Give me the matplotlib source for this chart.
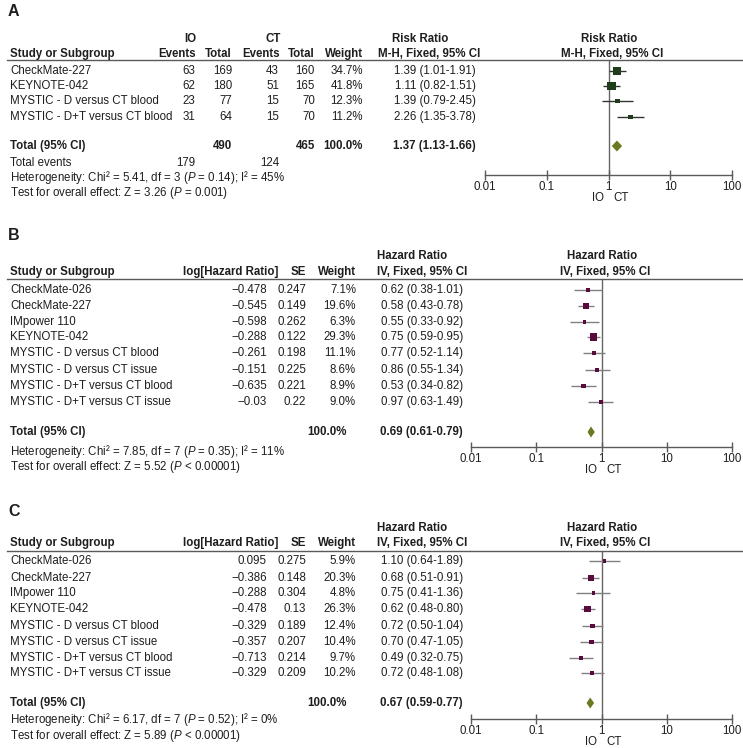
"""
Forest plots: IO versus CT (three panels)
"""

import matplotlib
matplotlib.use('Agg')
import matplotlib.pyplot as plt
import numpy as np

plt.rcParams['font.family'] = ['Liberation Sans', 'DejaVu Sans']
plt.rcParams['mathtext.fontset'] = 'custom'
plt.rcParams['mathtext.rm'] = 'Liberation Sans'
plt.rcParams['mathtext.it'] = 'Liberation Sans:italic'
plt.rcParams['mathtext.bf'] = 'Liberation Sans:bold'

# ---- panel A : risk ratio ----
a_studies = ['CheckMate-227', 'KEYNOTE-042', 'MYSTIC - D versus CT blood', 'MYSTIC - D+T versus CT blood']
a_io_events = [63, 62, 23, 31]
a_io_total = [169, 180, 77, 64]
a_ct_events = [43, 51, 15, 15]
a_ct_total = [160, 165, 70, 70]
a_weight = [34.7, 41.8, 12.3, 11.2]
a_est = [1.39, 1.11, 1.39, 2.26]
a_lo = [1.01, 0.82, 0.79, 1.35]
a_hi = [1.91, 1.51, 2.45, 3.78]
a_pooled = [1.37, 1.13, 1.66]
a_sum_total = [490, 465]
a_sum_events = [179, 124]
a_het = 'Heterogeneity: Chi² = 5.41, df = 3 ($P$ = 0.14); I² = 45%'
a_test = 'Test for overall effect: Z = 3.26 ($P$ = 0.001)'

# ---- panels B and C : hazard ratio ----
hr_studies = ['CheckMate-026', 'CheckMate-227', 'IMpower 110', 'KEYNOTE-042',
              'MYSTIC - D versus CT blood', 'MYSTIC - D versus CT issue',
              'MYSTIC - D+T versus CT blood', 'MYSTIC - D+T versus CT issue']

b_loghr = [-0.478, -0.545, -0.598, -0.288, -0.261, -0.151, -0.635, -0.03]
b_se = [0.247, 0.149, 0.262, 0.122, 0.198, 0.225, 0.221, 0.22]
b_weight = [7.1, 19.6, 6.3, 29.3, 11.1, 8.6, 8.9, 9.0]
b_est = [0.62, 0.58, 0.55, 0.75, 0.77, 0.86, 0.53, 0.97]
b_lo = [0.38, 0.43, 0.33, 0.59, 0.52, 0.55, 0.34, 0.63]
b_hi = [1.01, 0.78, 0.92, 0.95, 1.14, 1.34, 0.82, 1.49]
b_pooled = [0.69, 0.61, 0.79]
b_het = 'Heterogeneity: Chi² = 7.85, df = 7 ($P$ = 0.35); I² = 11%'
b_test = 'Test for overall effect: Z = 5.52 ($P$ < 0.00001)'

c_loghr = [0.095, -0.386, -0.288, -0.478, -0.329, -0.357, -0.713, -0.329]
c_se = [0.275, 0.148, 0.304, 0.13, 0.189, 0.207, 0.214, 0.209]
c_weight = [5.9, 20.3, 4.8, 26.3, 12.4, 10.4, 9.7, 10.2]
c_est = [1.10, 0.68, 0.75, 0.62, 0.72, 0.70, 0.49, 0.72]
c_lo = [0.64, 0.51, 0.41, 0.48, 0.50, 0.47, 0.32, 0.48]
c_hi = [1.89, 0.91, 1.36, 0.80, 1.04, 1.05, 0.75, 1.08]
c_pooled = [0.67, 0.59, 0.77]
c_het = 'Heterogeneity: Chi² = 6.17, df = 7 ($P$ = 0.52); I² = 0%'
c_test = 'Test for overall effect: Z = 5.89 ($P$ < 0.00001)'

ticks = [0.01, 0.1, 1, 10, 100]

W, H = 743, 748
FS = 8.3
TXT = '#1e1e1e'
GRID = '#5a5a5a'

fig = plt.figure(figsize=(W / 100, H / 100), dpi=100)


def t(x, y, s, ha='left', bold=False, size=FS):
    fig.text(x / W, 1 - y / H, s, ha=ha, va='center', fontsize=size, color=TXT,
             fontweight='bold' if bold else 'normal')


def hline(y, x0=7, x1=743):
    fig.add_artist(plt.Line2D([x0 / W, x1 / W], [1 - y / H, 1 - y / H], color=GRID, lw=1.0))


def num(v):
    return f'{v:g}'.replace('-', '\u2212')


def ci_txt(e, lo, hi):
    return f'{e:.2f} ({lo:.2f}-{hi:.2f})'


def forest(x0, x1, ytop, ybot, rows, est, lo, hi, weight, pooled, ytot, sq_col, ci_col, k):
    ax = fig.add_axes([x0 / W, 1 - ybot / H, (x1 - x0) / W, (ybot - ytop) / H])
    ax.set_xscale('log')
    ax.set_xlim(0.01, 100)
    ax.set_ylim(ybot, ytop)
    ax.patch.set_alpha(0)
    for s in ['top', 'right', 'left']:
        ax.spines[s].set_visible(False)
    ax.spines['bottom'].set_color(GRID)
    ax.spines['bottom'].set_linewidth(1.0)
    ax.set_yticks([])
    ax.set_xticks(ticks)
    ax.set_xticklabels(['0.01', '0.1', '1', '10', '100'])
    ax.xaxis.set_minor_locator(matplotlib.ticker.NullLocator())
    ax.tick_params(axis='x', direction='inout', length=7, width=1.0, color=GRID,
                   labelsize=FS, labelcolor=TXT, pad=1)
    ax.axvline(1, color='#666666', lw=1.0, zorder=1)
    ax.hlines(rows, lo, hi, color=ci_col, lw=1.0, zorder=2)
    side_px = np.maximum(3.2, k * np.sqrt(weight))
    ax.scatter(est, rows, marker='s', s=(side_px * 0.72) ** 2, color=sq_col, zorder=3, linewidths=0)
    e, l, h = pooled
    ax.fill([l, e, h, e], [ytot, ytot - 5.5, ytot, ytot + 5.5], color='#6b7a22', zorder=3, lw=0)
    ax.annotate('IO', xy=(1, 0), xycoords=('data', 'axes fraction'), xytext=(-3.5, -16.5),
                textcoords='offset points', ha='right', va='center', fontsize=FS, color=TXT)
    ax.annotate('CT', xy=(1, 0), xycoords=('data', 'axes fraction'), xytext=(3.5, -16.5),
                textcoords='offset points', ha='left', va='center', fontsize=FS, color=TXT)
    return ax


# ================= Panel A =================
t(8, 12, 'A', bold=True, size=11.5)
t(190, 39, 'IO', ha='center', bold=True)
t(273, 39, 'CT', ha='center', bold=True)
t(420, 39, 'Risk Ratio', ha='center', bold=True)
t(609, 39, 'Risk Ratio', ha='center', bold=True)
t(10, 54, 'Study or Subgroup', bold=True)
t(196, 54, 'Events', ha='right', bold=True)
t(232, 54, 'Total', ha='right', bold=True)
t(280, 54, 'Events', ha='right', bold=True)
t(315, 54, 'Total', ha='right', bold=True)
t(363, 54, 'Weight', ha='right', bold=True)
t(429, 54, 'M-H, Fixed, 95% CI', ha='center', bold=True)
t(612, 54, 'M-H, Fixed, 95% CI', ha='center', bold=True)
hline(60)

a_rows = [71, 86, 101, 117]
for i, y in enumerate(a_rows):
    t(10, y, a_studies[i])
    t(195, y, str(a_io_events[i]), ha='right')
    t(232, y, str(a_io_total[i]), ha='right')
    t(279, y, str(a_ct_events[i]), ha='right')
    t(315, y, str(a_ct_total[i]), ha='right')
    t(363, y, f'{a_weight[i]:.1f}%', ha='right')
    t(476, y, ci_txt(a_est[i], a_lo[i], a_hi[i]), ha='right')
t(10, 146, 'Total (95% CI)', bold=True)
t(232, 146, str(a_sum_total[0]), ha='right', bold=True)
t(315, 146, str(a_sum_total[1]), ha='right', bold=True)
t(363, 146, '100.0%', ha='right', bold=True)
t(476, 146, ci_txt(*a_pooled), ha='right', bold=True)
t(10, 163, 'Total events')
t(195, 163, str(a_sum_events[0]), ha='right')
t(279, 163, str(a_sum_events[1]), ha='right')
t(10, 178, a_het)
t(10, 193, a_test)
forest(485, 732, 60, 175, a_rows, a_est, a_lo, a_hi, a_weight, a_pooled, 146,
       '#1f3d1b', '#333333', 1.35)


# ================= Panels B and C =================
def hr_panel(label, ylab, yh1, yh2, yline, rows, ytot, yhet, yaxis, loghr, se, weight,
             est, lo, hi, pooled, het, test):
    t(8, ylab, label, bold=True, size=11.5)
    t(412, yh1, 'Hazard Ratio', ha='center', bold=True)
    t(602, yh1, 'Hazard Ratio', ha='center', bold=True)
    t(10, yh2, 'Study or Subgroup', bold=True)
    t(278, yh2, 'log[Hazard Ratio]', ha='right', bold=True)
    t(306, yh2, 'SE', ha='right', bold=True)
    t(356, yh2, 'Weight', ha='right', bold=True)
    t(422, yh2, 'IV, Fixed, 95% CI', ha='center', bold=True)
    t(605, yh2, 'IV, Fixed, 95% CI', ha='center', bold=True)
    hline(yline)
    for i, y in enumerate(rows):
        t(10, y, hr_studies[i])
        t(267, y, num(loghr[i]), ha='right')
        t(306, y, num(se[i]), ha='right')
        t(356, y, f'{weight[i]:.1f}%', ha='right')
        t(463, y, ci_txt(est[i], lo[i], hi[i]), ha='right')
    t(10, ytot, 'Total (95% CI)', bold=True)
    t(347, ytot, '100.0%', ha='right', bold=True)
    t(463, ytot, ci_txt(*pooled), ha='right', bold=True)
    t(10, yhet, het)
    t(10, yhet + 16, test)
    forest(471, 732, yline, yaxis, rows, est, lo, hi, weight, pooled, ytot,
           '#5a0b3e', '#808080', 1.35)


hr_panel('B', 236, 256, 272, 279, [290, 306, 322, 337, 353, 370, 386, 402], 432, 451, 447,
         b_loghr, b_se, b_weight, b_est, b_lo, b_hi, b_pooled, b_het, b_test)
hr_panel('C', 512, 528, 543, 551, [561, 578, 593, 609, 626, 642, 658, 673], 703, 720, 719,
         c_loghr, c_se, c_weight, c_est, c_lo, c_hi, c_pooled, c_het, c_test)

fig.savefig('out.png', dpi=100)
